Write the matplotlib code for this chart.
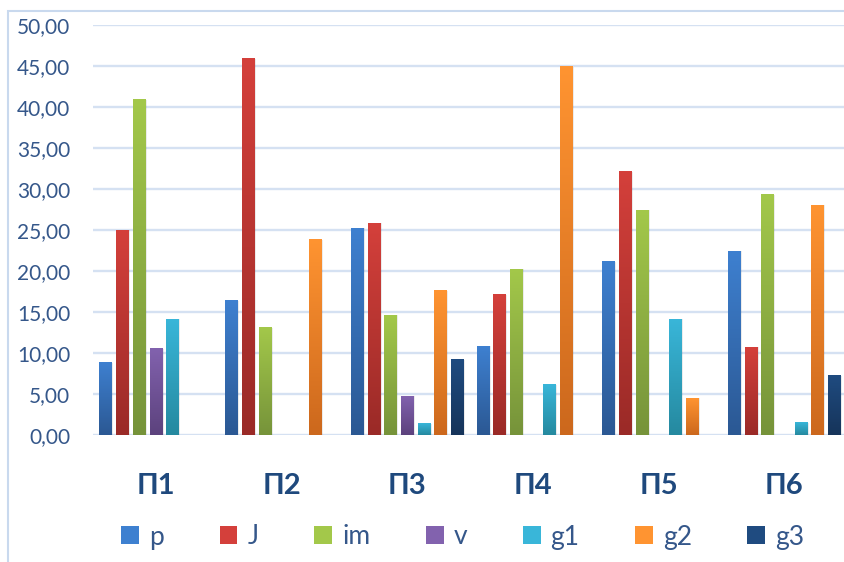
import numpy as np
import matplotlib
matplotlib.use("Agg")
import matplotlib.pyplot as plt
from matplotlib.colors import LinearSegmentedColormap
from matplotlib.patches import Rectangle

plt.rcParams['font.family'] = ['Lato', 'Open Sans', 'DejaVu Sans']

groups = ['П1', 'П2', 'П3', 'П4', 'П5', 'П6']
series_names = ['p', 'J', 'im', 'v', 'g1', 'g2', 'g3']

p = [8.8, 16.4, 25.2, 10.8, 21.1, 22.4]
J = [25.0, 45.9, 25.8, 17.1, 32.1, 10.7]
im = [40.9, 13.1, 14.6, 20.2, 27.4, 29.3]
v = [10.5, 0.0, 4.7, 0.0, 0.0, 0.0]
g1 = [14.1, 0.0, 1.4, 6.1, 14.1, 1.5]
g2 = [0.0, 23.8, 17.6, 44.9, 4.5, 28.0]
g3 = [0.0, 0.0, 9.2, 0.0, 0.0, 7.2]
series = [p, J, im, v, g1, g2, g3]

y_ticks = np.arange(0, 51, 5)

# gradient colours per series: top -> bottom
colors_top = ['#3e80d0', '#d4403b', '#a3c84a', '#8262ae', '#39b6d9', '#ff9431', '#1f4b80']
colors_bottom = ['#2b5893', '#9a2a27', '#76933a', '#5c427d', '#25899f', '#cc681d', '#16345a']

W, H = 844, 562
fig = plt.figure(figsize=(W / 100, H / 100), dpi=100)
ax = fig.add_axes([93 / W, (H - 435) / H, (W - 93) / W, 410 / H])

x = np.arange(len(groups))
pitch = 0.1329
width = 0.0995
grad = np.linspace(0, 1, 256).reshape(-1, 1)

for i, (vals, ct, cb) in enumerate(zip(series, colors_top, colors_bottom)):
    bars = ax.bar(x + (i - 3) * pitch, vals, width, color=ct, zorder=2, linewidth=0)
    cmap = LinearSegmentedColormap.from_list(series_names[i], [cb, ct])
    for b in bars:
        h = b.get_height()
        if h <= 0:
            continue
        x0, w = b.get_x(), b.get_width()
        # soft shadow to the right of the bar
        ax.add_patch(Rectangle((x0 + w, 0), 0.012, h, color='#000000', alpha=0.08,
                               lw=0, zorder=1.5))
        ax.imshow(grad, extent=(x0, x0 + w, 0, h), origin='lower', cmap=cmap,
                  aspect='auto', zorder=3, interpolation='bilinear')

ax.set_xlim(-0.5, 5.475)
ax.set_ylim(0, 50)
ax.set_yticks(y_ticks)
ax.set_yticklabels([f"{t:.2f}".replace('.', ',') for t in y_ticks])
ax.yaxis.grid(True, color='#d5e1f2', linewidth=1.7)
ax.set_axisbelow(True)
for s in ax.spines.values():
    s.set_visible(False)
ax.tick_params(axis='y', length=0, pad=16.5, labelsize=15, labelcolor='#35578a')
ax.set_xticks(x)
ax.set_xticklabels(groups, fontsize=21, fontweight='bold', color='#1f497d')
ax.tick_params(axis='x', length=0, pad=27)

handles = [Rectangle((0, 0), 1, 1, facecolor=c, edgecolor='none') for c in colors_top]
fig.legend(handles, series_names, loc='center', bbox_to_anchor=(463 / W, 1 - 537 / H),
           ncol=7, frameon=False, fontsize=19, handlelength=0.68, handleheight=0.68,
           handletextpad=0.38, columnspacing=2.1, labelcolor='#35578a')

# outer chart border
fig.add_artist(Rectangle((8 / W, -0.1), 1.2, (H - 11) / H + 0.1, transform=fig.transFigure,
                         fill=False, edgecolor='#c9d9ee', linewidth=1.5))

fig.savefig('out.png', dpi=100)
